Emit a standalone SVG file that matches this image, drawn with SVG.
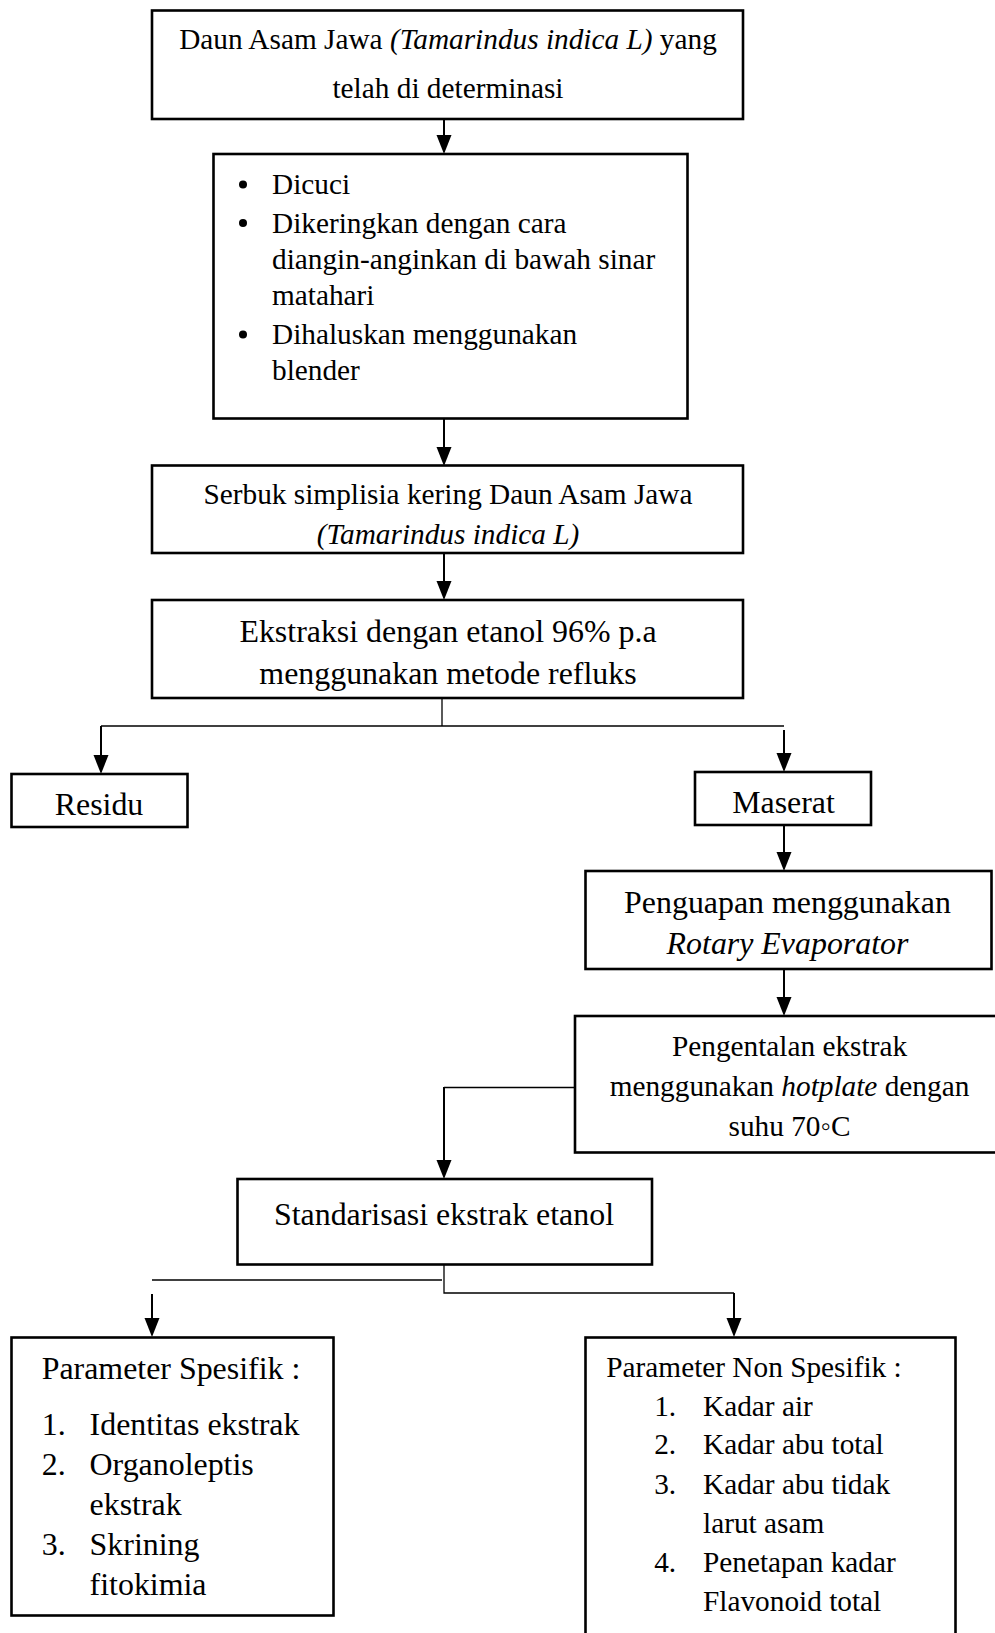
<svg xmlns="http://www.w3.org/2000/svg" width="995" height="1633" viewBox="0 0 995 1633">
<defs>
<style>
.box{fill:#fff;stroke:#000;stroke-width:2.6}
.t{font-family:"Liberation Serif","Times New Roman",serif;fill:#000}
.s{font-size:29.3px}
.b{font-size:31.9px}
.c{text-anchor:middle}
.i{font-style:italic}
.ln{fill:none;stroke:#000;stroke-width:2}
.thin{fill:none;stroke:#000;stroke-width:1.3}
.ah{fill:#000}
</style>
</defs>
<rect width="995" height="1633" fill="#fff"/>
<g id="connectors">
<line class="ln" x1="444" y1="113" x2="444" y2="140"/>
<polygon class="ah" points="436.5,135 451.5,135 444,154"/>
<line class="ln" x1="444" y1="419" x2="444" y2="450"/>
<polygon class="ah" points="436.5,447 451.5,447 444,466"/>
<line class="ln" x1="444" y1="553" x2="444" y2="585"/>
<polygon class="ah" points="436.5,581 451.5,581 444,600"/>
<line class="thin" x1="442" y1="698" x2="442" y2="726"/>
<line class="thin" x1="101" y1="726" x2="784" y2="726"/>
<line class="ln" x1="101" y1="726" x2="101" y2="760"/>
<polygon class="ah" points="93.5,755 108.5,755 101,774"/>
<line class="ln" x1="784" y1="730" x2="784" y2="758"/>
<polygon class="ah" points="776.5,753 791.5,753 784,772"/>
<line class="ln" x1="784" y1="825" x2="784" y2="856"/>
<polygon class="ah" points="776.5,852 791.5,852 784,871"/>
<line class="ln" x1="784" y1="969" x2="784" y2="1000"/>
<polygon class="ah" points="776.5,997 791.5,997 784,1016"/>
<polyline class="thin" points="575,1087.5 444,1087.5"/>
<line class="ln" x1="444" y1="1087" x2="444" y2="1165"/>
<polygon class="ah" points="436.5,1160 451.5,1160 444,1179"/>
<polyline class="thin" points="444,1265 444,1293 734,1293"/>
<line class="ln" x1="734" y1="1293" x2="734" y2="1323"/>
<polygon class="ah" points="726.5,1318 741.5,1318 734,1337"/>
<line class="thin" x1="152" y1="1280" x2="442" y2="1280"/>
<line class="ln" x1="152" y1="1294" x2="152" y2="1323"/>
<polygon class="ah" points="144.5,1318 159.5,1318 152,1337"/>
</g>
<g id="n1">
<rect class="box" x="152" y="10.5" width="591" height="108.5"/>
<text class="t s c" x="448" y="49">Daun Asam Jawa <tspan class="i">(Tamarindus indica L)</tspan> yang</text>
<text class="t s c" x="448" y="98">telah di determinasi</text>
</g>
<g id="n2">
<rect class="box" x="213.5" y="154" width="474" height="264.5"/>
<circle cx="243" cy="184.5" r="4"/>
<circle cx="243" cy="223" r="4"/>
<circle cx="243" cy="334.5" r="4"/>
<text class="t s" x="272" y="194">Dicuci</text>
<text class="t s" x="272" y="232.5">Dikeringkan dengan cara</text>
<text class="t s" x="272" y="269">diangin-anginkan di bawah sinar</text>
<text class="t s" x="272" y="305">matahari</text>
<text class="t s" x="272" y="344">Dihaluskan menggunakan</text>
<text class="t s" x="272" y="380">blender</text>
</g>
<g id="n3">
<rect class="box" x="152" y="465.5" width="591" height="87.5"/>
<text class="t s c" x="448" y="504">Serbuk simplisia kering Daun Asam Jawa</text>
<text class="t s c i" x="448" y="544">(Tamarindus indica L)</text>
</g>
<g id="n4">
<rect class="box" x="152" y="600" width="591" height="98"/>
<text class="t b c" x="448" y="642">Ekstraksi dengan etanol 96% p.a</text>
<text class="t b c" x="448" y="683.5">menggunakan metode refluks</text>
</g>
<g id="residu">
<rect class="box" x="11.5" y="774" width="176" height="53"/>
<text class="t b c" x="99" y="814.5">Residu</text>
</g>
<g id="maserat">
<rect class="box" x="695" y="772" width="176" height="53"/>
<text class="t b c" x="783.5" y="812.5">Maserat</text>
</g>
<g id="penguapan">
<rect class="box" x="585.5" y="871" width="406" height="98"/>
<text class="t b c" x="787.5" y="912.5">Penguapan menggunakan</text>
<text class="t b c i" x="787.5" y="954">Rotary Evaporator</text>
</g>
<g id="pengentalan">
<rect class="box" x="575" y="1016" width="440" height="136.5"/>
<text class="t s c" x="789.5" y="1056">Pengentalan ekstrak</text>
<text class="t s c" x="789.5" y="1096">menggunakan <tspan class="i">hotplate</tspan> dengan</text>
<text class="t s c" x="789.5" y="1135.5">suhu 70◦C</text>
</g>
<g id="standarisasi">
<rect class="box" x="237.5" y="1179" width="414.5" height="85.5"/>
<text class="t b c" x="444" y="1225">Standarisasi ekstrak etanol</text>
</g>
<g id="spesifik">
<rect class="box" x="11.5" y="1337.5" width="322" height="278"/>
<text class="t b" x="41.7" y="1379">Parameter Spesifik :</text>
<text class="t b" x="41.7" y="1434.5">1.</text><text class="t b" x="89.6" y="1434.5">Identitas ekstrak</text>
<text class="t b" x="41.7" y="1475">2.</text><text class="t b" x="89.6" y="1475">Organoleptis</text>
<text class="t b" x="89.6" y="1514.5">ekstrak</text>
<text class="t b" x="41.7" y="1555">3.</text><text class="t b" x="89.6" y="1555">Skrining</text>
<text class="t b" x="89.6" y="1595">fitokimia</text>
</g>
<g id="nonspesifik">
<rect class="box" x="585.5" y="1337.5" width="370" height="320"/>
<text class="t s" x="606.3" y="1377">Parameter Non Spesifik :</text>
<text class="t s" x="654.2" y="1415.5">1.</text><text class="t s" x="703" y="1415.5">Kadar air</text>
<text class="t s" x="654.2" y="1454">2.</text><text class="t s" x="703" y="1454">Kadar abu total</text>
<text class="t s" x="654.2" y="1494">3.</text><text class="t s" x="703" y="1494">Kadar abu tidak</text>
<text class="t s" x="703" y="1532.5">larut asam</text>
<text class="t s" x="654.2" y="1572">4.</text><text class="t s" x="703" y="1572">Penetapan kadar</text>
<text class="t s" x="703" y="1610.5">Flavonoid total</text>
</g>
</svg>
